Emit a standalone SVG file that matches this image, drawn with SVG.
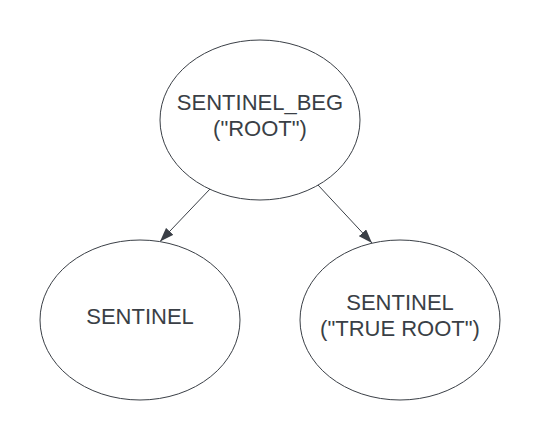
<svg xmlns="http://www.w3.org/2000/svg" width="540" height="440" viewBox="0 0 540 440">
  <style>
    .node ellipse { fill: #ffffff; stroke: #3a3f46; stroke-width: 1; }
    .node text { font-family: "Liberation Sans", Arial, sans-serif; font-size: 22px; fill: #3a3f46; text-anchor: middle; }
    .edge { stroke: #3a3f46; stroke-width: 1; fill: none; marker-end: url(#arrow); }
  </style>
  <defs>
    <marker id="arrow" viewBox="0 0 14 10" refX="14" refY="5" markerWidth="14" markerHeight="10" markerUnits="userSpaceOnUse" orient="auto">
      <path d="M0,0 L14,5 L0,10 Z" fill="#3a3f46"/>
    </marker>
  </defs>
  <rect width="540" height="440" fill="#ffffff"/>
  <g id="connectors">
    <line class="edge" x1="210" y1="189" x2="160" y2="241.5"/>
    <line class="edge" x1="318" y1="185" x2="372" y2="243"/>
  </g>
  <g id="root" class="node">
    <ellipse cx="260" cy="120" rx="100" ry="80"/>
    <text x="260" y="110">SENTINEL_BEG</text>
    <text x="260" y="136">("ROOT")</text>
  </g>
  <g id="sentinel" class="node">
    <ellipse cx="140" cy="320" rx="100" ry="80"/>
    <text x="140" y="324">SENTINEL</text>
  </g>
  <g id="true-root" class="node">
    <ellipse cx="400" cy="320" rx="100" ry="80"/>
    <text x="400" y="310">SENTINEL</text>
    <text x="400" y="336">("TRUE ROOT")</text>
  </g>
</svg>
